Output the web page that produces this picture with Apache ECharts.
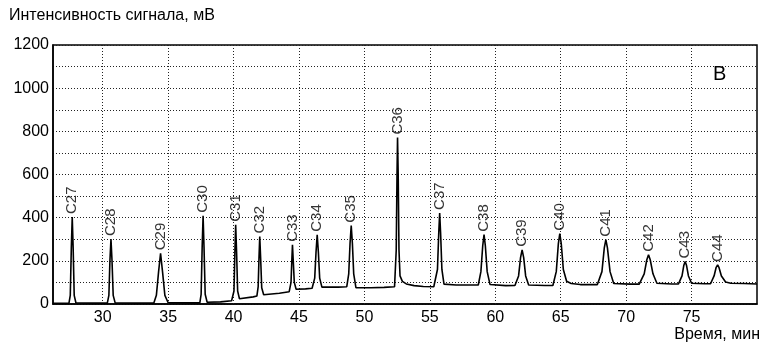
<!DOCTYPE html>
<html><head><meta charset="utf-8">
<script src="https://cdn.jsdelivr.net/npm/echarts@6/dist/echarts.min.js"></script>
<style>html,body{margin:0;padding:0;background:#fff}#c{width:770px;height:346px}</style>
</head><body><div id="c"></div>
<script>
// Chromatogram trace: retention time (min) and signal (mV)
const time = [
  26.2, 27.0, 27.42, 27.52, 27.6, 27.67, 27.74, 27.82, 27.95, 29.0,
  30.35, 30.47, 30.55, 30.63, 30.71, 30.8, 30.95, 33.0,
  33.9, 34.1, 34.27, 34.42, 34.57, 34.75, 35.0, 36.5,
  37.42, 37.52, 37.6, 37.67, 37.74, 37.83, 37.98, 39.0, 39.85,
  39.92, 40.03, 40.1, 40.16, 40.23, 40.31, 40.45, 41.5,
  41.78, 41.88, 41.94, 42.0, 42.07, 42.15, 42.3, 43.5, 44.25,
  44.3, 44.39, 44.45, 44.5, 44.56, 44.64, 44.78, 45.5, 46.0,
  46.07, 46.2, 46.3, 46.39, 46.48, 46.58, 46.75, 48.0, 48.65,
  48.66, 48.8, 48.9, 48.99, 49.08, 49.18, 49.35, 50.5, 51.5, 52.3,
  52.33, 52.43, 52.49, 52.53, 52.58, 52.64, 52.72, 52.9, 53.2, 53.8, 54.5, 55.3,
  55.45, 55.58, 55.68, 55.75, 55.82, 55.92, 56.08, 57.0, 58.3,
  58.7, 58.9, 59.04, 59.14, 59.24, 59.38, 59.6, 60.8, 61.5,
  61.55, 61.78, 61.93, 62.05, 62.17, 62.32, 62.55, 63.8, 64.4,
  64.45, 64.66, 64.82, 64.93, 65.04, 65.2, 65.45, 65.8, 66.5, 67.8,
  67.9, 68.15, 68.33, 68.45, 68.57, 68.77, 69.05, 70.3, 71.0,
  71.1, 71.38, 71.58, 71.71, 71.84, 72.05, 72.35, 73.5, 74.0,
  74.06, 74.27, 74.41, 74.51, 74.61, 74.76, 75.0, 76.0, 76.45,
  76.5, 76.72, 76.88, 76.99, 77.1, 77.28, 77.6, 78.0, 79.0, 80.0
];
const signal = [
  3, 3, 4, 40, 260, 403, 260, 40, 6, 4,
  4, 40, 200, 301, 200, 40, 5, 4,
  4, 40, 150, 235, 150, 40, 6, 5,
  5, 45, 265, 409, 265, 45, 8, 10, 15,
  16, 60, 240, 367, 240, 60, 24, 33,
  37, 80, 210, 313, 210, 75, 43, 50, 57,
  58, 100, 200, 274, 200, 100, 68, 70, 73,
  73, 120, 240, 321, 240, 120, 78, 78, 80,
  80, 140, 280, 363, 280, 140, 76, 75, 77, 80,
  80, 250, 600, 771, 600, 250, 130, 105, 93, 85, 81, 80,
  80, 160, 330, 422, 330, 160, 92, 88, 88,
  88, 150, 270, 321, 270, 150, 90, 85, 86,
  86, 130, 215, 251, 215, 130, 88, 86, 86,
  86, 150, 280, 326, 280, 160, 105, 95, 90, 90,
  90, 150, 260, 298, 260, 150, 95, 92, 92,
  92, 140, 205, 228, 205, 140, 96, 93, 93,
  93, 130, 180, 197, 180, 130, 96, 94, 94,
  94, 130, 170, 181, 168, 130, 102, 96, 95, 93
];
// Peak annotations
const peakNames = ['C27','C28','C29','C30','C31','C32','C33','C34','C35','C36','C37','C38','C39','C40','C41','C42','C43','C44'];
const peakTimes = [27.67, 30.63, 34.42, 37.67, 40.16, 42.0, 44.5, 46.39, 48.99, 52.53, 55.75, 59.14, 62.05, 64.93, 68.45, 71.71, 74.51, 76.99];
const peakValues = [403, 301, 235, 409, 367, 313, 274, 321, 363, 771, 422, 321, 251, 326, 298, 228, 197, 181];
const yTicks = [0, 200, 400, 600, 800, 1000, 1200];
const xTicks = [30, 35, 40, 45, 50, 55, 60, 65, 70, 75];

const font = 'Liberation Sans, Arial, sans-serif';
const trace = time.map((t, i) => [t, signal[i]]);
const peaks = peakTimes.map((t, i) => ({ value: [t, peakValues[i]], name: peakNames[i] }));
const gridStyle = { color: '#222', type: [1, 2], width: 1 };

const chart = echarts.init(document.getElementById('c'), null, { renderer: 'canvas' });
chart.setOption({
  animation: false,
  backgroundColor: '#fff',
  textStyle: { fontFamily: font },
  title: [
    { text: 'Интенсивность сигнала, мВ', left: 9, top: 8, padding: 0,
      textStyle: { fontFamily: font, fontSize: 16, fontWeight: 'normal', color: '#000' } },
    { text: 'Время, мин', right: 10, top: 327, padding: 0,
      textStyle: { fontFamily: font, fontSize: 16, fontWeight: 'normal', color: '#000' } },
    { text: 'В', left: 713, top: 64, padding: 0,
      textStyle: { fontFamily: font, fontSize: 20, fontWeight: 'normal', color: '#000' } }
  ],
  grid: { left: 53, right: 13, top: 45, bottom: 42, show: true, borderColor: '#000', borderWidth: 1.5, containLabel: false },
  xAxis: {
    type: 'value', min: 26.2, max: 80,
    axisLine: { show: true, lineStyle: { color: '#000', width: 1.5 } },
    axisTick: { show: false, customValues: xTicks },
    axisLabel: { color: '#000', fontSize: 16, fontFamily: font, margin: 6, customValues: xTicks },
    splitLine: { show: false }
  },
  yAxis: {
    type: 'value', min: 0, max: 1200, interval: 200,
    axisLine: { show: true, lineStyle: { color: '#000', width: 1.5 } },
    axisTick: { show: false },
    axisLabel: { color: '#000', fontSize: 16, fontFamily: font, margin: 4,
      formatter: v => yTicks.indexOf(v) >= 0 ? String(v) : '' },
    splitLine: { show: true, lineStyle: gridStyle },
    minorTick: { show: false, splitNumber: 2 },
    minorSplitLine: { show: true, lineStyle: gridStyle }
  },
  series: [
    { type: 'line', data: trace, symbol: 'none', smooth: false,
      lineStyle: { color: '#000', width: 1.6 }, z: 3,
      markLine: { silent: true, symbol: 'none', label: { show: false }, z: 1,
        lineStyle: gridStyle, emphasis: { disabled: true },
        data: xTicks.map(v => ({ xAxis: v })) } },
    { type: 'scatter', data: peaks, symbolSize: 0, z: 4,
      label: { show: true, formatter: p => p.name, position: 'top', distance: 3, rotate: 90,
        align: 'left', verticalAlign: 'middle', fontSize: 15, fontFamily: font, color: '#000' } }
  ]
});
</script>
</body></html>
